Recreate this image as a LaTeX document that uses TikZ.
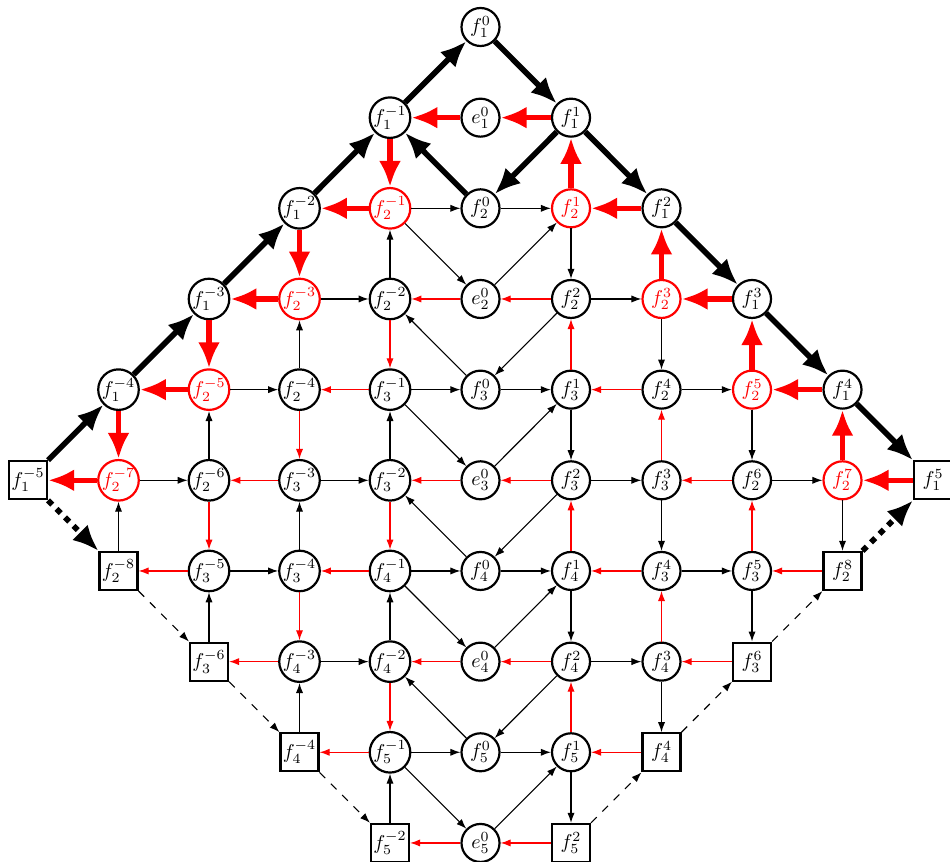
\documentclass[tikz,border=0pt]{standalone}
\usetikzlibrary{arrows.meta}
\begin{document}
\begin{tikzpicture}[x=45.25pt,y=-45.33pt,
  nd/.style={circle,draw,line width=1.1pt,minimum size=19pt,inner sep=0pt},
  rnd/.style={nd,draw=red,text=red},
  sq/.style={rectangle,draw,line width=1.1pt,minimum size=19pt,inner sep=0pt},
  ar/.style={-{Latex[length=5pt,width=3.6pt]},line width=0.55pt},
  rar/.style={ar,red},
  dar/.style={ar,dash pattern=on 4pt off 4pt},
  bar/.style={-{Latex[length=13pt,width=11pt]},line width=2.8pt},
  rbar/.style={bar,red},
  dbar/.style={bar,dash pattern=on 3pt off 3pt}]
\useasboundingbox (-0.3094,-0.2978) rectangle (10.1878,9.2092);
% row 0
\node[nd] (f1p0) at (5,0) {$f_1^{0}$};
% row 1
\node[nd] (f1m1) at (4,1) {$f_1^{-1}$};
\node[nd] (e1) at (5,1) {$e_1^{0}$};
\node[nd] (f1p1) at (6,1) {$f_1^{1}$};
% row 2
\node[nd] (f1m2) at (3,2) {$f_1^{-2}$};
\node[rnd] (f2m1) at (4,2) {$f_2^{-1}$};
\node[nd] (f2p0) at (5,2) {$f_2^{0}$};
\node[rnd] (f2p1) at (6,2) {$f_2^{1}$};
\node[nd] (f1p2) at (7,2) {$f_1^{2}$};
% row 3
\node[nd] (f1m3) at (2,3) {$f_1^{-3}$};
\node[rnd] (f2m3) at (3,3) {$f_2^{-3}$};
\node[nd] (f2m2) at (4,3) {$f_2^{-2}$};
\node[nd] (e2) at (5,3) {$e_2^{0}$};
\node[nd] (f2p2) at (6,3) {$f_2^{2}$};
\node[rnd] (f2p3) at (7,3) {$f_2^{3}$};
\node[nd] (f1p3) at (8,3) {$f_1^{3}$};
% row 4
\node[nd] (f1m4) at (1,4) {$f_1^{-4}$};
\node[rnd] (f2m5) at (2,4) {$f_2^{-5}$};
\node[nd] (f2m4) at (3,4) {$f_2^{-4}$};
\node[nd] (f3m1) at (4,4) {$f_3^{-1}$};
\node[nd] (f3p0) at (5,4) {$f_3^{0}$};
\node[nd] (f3p1) at (6,4) {$f_3^{1}$};
\node[nd] (f2p4) at (7,4) {$f_2^{4}$};
\node[rnd] (f2p5) at (8,4) {$f_2^{5}$};
\node[nd] (f1p4) at (9,4) {$f_1^{4}$};
% row 5
\node[sq] (f1m5) at (0,5) {$f_1^{-5}$};
\node[rnd] (f2m7) at (1,5) {$f_2^{-7}$};
\node[nd] (f2m6) at (2,5) {$f_2^{-6}$};
\node[nd] (f3m3) at (3,5) {$f_3^{-3}$};
\node[nd] (f3m2) at (4,5) {$f_3^{-2}$};
\node[nd] (e3) at (5,5) {$e_3^{0}$};
\node[nd] (f3p2) at (6,5) {$f_3^{2}$};
\node[nd] (f3p3) at (7,5) {$f_3^{3}$};
\node[nd] (f2p6) at (8,5) {$f_2^{6}$};
\node[rnd] (f2p7) at (9,5) {$f_2^{7}$};
\node[sq] (f1p5) at (10,5) {$f_1^{5}$};
% row 6
\node[sq] (f2m8) at (1,6) {$f_2^{-8}$};
\node[nd] (f3m5) at (2,6) {$f_3^{-5}$};
\node[nd] (f3m4) at (3,6) {$f_3^{-4}$};
\node[nd] (f4m1) at (4,6) {$f_4^{-1}$};
\node[nd] (f4p0) at (5,6) {$f_4^{0}$};
\node[nd] (f4p1) at (6,6) {$f_4^{1}$};
\node[nd] (f3p4) at (7,6) {$f_3^{4}$};
\node[nd] (f3p5) at (8,6) {$f_3^{5}$};
\node[sq] (f2p8) at (9,6) {$f_2^{8}$};
% row 7
\node[sq] (f3m6) at (2,7) {$f_3^{-6}$};
\node[nd] (f4m3) at (3,7) {$f_4^{-3}$};
\node[nd] (f4m2) at (4,7) {$f_4^{-2}$};
\node[nd] (e4) at (5,7) {$e_4^{0}$};
\node[nd] (f4p2) at (6,7) {$f_4^{2}$};
\node[nd] (f4p3) at (7,7) {$f_4^{3}$};
\node[sq] (f3p6) at (8,7) {$f_3^{6}$};
% row 8
\node[sq] (f4m4) at (3,8) {$f_4^{-4}$};
\node[nd] (f5m1) at (4,8) {$f_5^{-1}$};
\node[nd] (f5p0) at (5,8) {$f_5^{0}$};
\node[nd] (f5p1) at (6,8) {$f_5^{1}$};
\node[sq] (f4p4) at (7,8) {$f_4^{4}$};
% row 9
\node[sq] (f5m2) at (4,9) {$f_5^{-2}$};
\node[nd] (e5) at (5,9) {$e_5^{0}$};
\node[sq] (f5p2) at (6,9) {$f_5^{2}$};

% thick black outer path
\draw[bar] (f1m5) -- (f1m4);
\draw[bar] (f1m4) -- (f1m3);
\draw[bar] (f1m3) -- (f1m2);
\draw[bar] (f1m2) -- (f1m1);
\draw[bar] (f1m1) -- (f1p0);
\draw[bar] (f1p0) -- (f1p1);
\draw[bar] (f1p1) -- (f1p2);
\draw[bar] (f1p2) -- (f1p3);
\draw[bar] (f1p3) -- (f1p4);
\draw[bar] (f1p4) -- (f1p5);
\draw[bar] (f1p1) -- (f2p0);
\draw[bar] (f2p0) -- (f1m1);
\draw[dbar] (f1m5) -- (f2m8);
\draw[dbar] (f2p8) -- (f1p5);

% thick red
\draw[rbar] (f1p1) -- (e1);
\draw[rbar] (e1) -- (f1m1);
\draw[rbar] (f1m1) -- (f2m1);
\draw[rbar] (f2m1) -- (f1m2);
\draw[rbar] (f1m2) -- (f2m3);
\draw[rbar] (f2m3) -- (f1m3);
\draw[rbar] (f1m3) -- (f2m5);
\draw[rbar] (f2m5) -- (f1m4);
\draw[rbar] (f1m4) -- (f2m7);
\draw[rbar] (f2m7) -- (f1m5);
\draw[rbar] (f2p1) -- (f1p1);
\draw[rbar] (f1p2) -- (f2p1);
\draw[rbar] (f2p3) -- (f1p2);
\draw[rbar] (f1p3) -- (f2p3);
\draw[rbar] (f2p5) -- (f1p3);
\draw[rbar] (f1p4) -- (f2p5);
\draw[rbar] (f2p7) -- (f1p4);
\draw[rbar] (f1p5) -- (f2p7);

% thin black
\draw[ar] (f2m1) -- (f2p0);
\draw[ar] (f2p0) -- (f2p1);
\draw[ar] (f2m2) -- (f2m1);
\draw[ar] (f2m1) -- (e2);
\draw[ar] (e2) -- (f2p1);
\draw[ar] (f2p1) -- (f2p2);
\draw[ar] (f2p2) -- (f2p3);
\draw[ar] (f2m3) -- (f2m2);
\draw[ar] (f2m4) -- (f2m3);
\draw[ar] (f2p2) -- (f3p0);
\draw[ar] (f3p0) -- (f2m2);
\draw[ar] (f2p3) -- (f2p4);
\draw[ar] (f2m5) -- (f2m4);
\draw[ar] (f3m1) -- (f3p0);
\draw[ar] (f3p0) -- (f3p1);
\draw[ar] (f2p4) -- (f2p5);
\draw[ar] (f3m2) -- (f3m1);
\draw[ar] (f3m1) -- (e3);
\draw[ar] (e3) -- (f3p1);
\draw[ar] (f3p1) -- (f3p2);
\draw[ar] (f2m6) -- (f2m5);
\draw[ar] (f2p5) -- (f2p6);
\draw[ar] (f2m7) -- (f2m6);
\draw[ar] (f3m3) -- (f3m2);
\draw[ar] (f3p2) -- (f3p3);
\draw[ar] (f2p6) -- (f2p7);
\draw[ar] (f2m8) -- (f2m7);
\draw[ar] (f3m4) -- (f3m3);
\draw[ar] (f3p3) -- (f3p4);
\draw[ar] (f2p7) -- (f2p8);
\draw[ar] (f3p2) -- (f4p0);
\draw[ar] (f4p0) -- (f3m2);
\draw[ar] (f3m5) -- (f3m4);
\draw[ar] (f4m1) -- (f4p0);
\draw[ar] (f4p0) -- (f4p1);
\draw[ar] (f3p4) -- (f3p5);
\draw[ar] (f3m6) -- (f3m5);
\draw[ar] (f4m2) -- (f4m1);
\draw[ar] (f4m1) -- (e4);
\draw[ar] (e4) -- (f4p1);
\draw[ar] (f4p1) -- (f4p2);
\draw[ar] (f3p5) -- (f3p6);
\draw[ar] (f4m3) -- (f4m2);
\draw[ar] (f4p2) -- (f4p3);
\draw[ar] (f4m4) -- (f4m3);
\draw[ar] (f4p3) -- (f4p4);
\draw[ar] (f4p2) -- (f5p0);
\draw[ar] (f5p0) -- (f4m2);
\draw[ar] (f5m1) -- (f5p0);
\draw[ar] (f5p0) -- (f5p1);
\draw[ar] (f5m2) -- (f5m1);
\draw[ar] (f5m1) -- (e5);
\draw[ar] (e5) -- (f5p1);
\draw[ar] (f5p1) -- (f5p2);

% thin dashed
\draw[dar] (f2m8) -- (f3m6);
\draw[dar] (f3m6) -- (f4m4);
\draw[dar] (f4m4) -- (f5m2);
\draw[dar] (f5p2) -- (f4p4);
\draw[dar] (f4p4) -- (f3p6);
\draw[dar] (f3p6) -- (f2p8);

% thin red
\draw[rar] (e2) -- (f2m2);
\draw[rar] (f2p2) -- (e2);
\draw[rar] (f2m2) -- (f3m1);
\draw[rar] (f3p1) -- (f2p2);
\draw[rar] (f3m1) -- (f2m4);
\draw[rar] (f2p4) -- (f3p1);
\draw[rar] (f2m4) -- (f3m3);
\draw[rar] (f3p3) -- (f2p4);
\draw[rar] (f3m3) -- (f2m6);
\draw[rar] (e3) -- (f3m2);
\draw[rar] (f3p2) -- (e3);
\draw[rar] (f2p6) -- (f3p3);
\draw[rar] (f2m6) -- (f3m5);
\draw[rar] (f3m2) -- (f4m1);
\draw[rar] (f4p1) -- (f3p2);
\draw[rar] (f3p5) -- (f2p6);
\draw[rar] (f3m5) -- (f2m8);
\draw[rar] (f4m1) -- (f3m4);
\draw[rar] (f3p4) -- (f4p1);
\draw[rar] (f2p8) -- (f3p5);
\draw[rar] (f3m4) -- (f4m3);
\draw[rar] (f4p3) -- (f3p4);
\draw[rar] (f4m3) -- (f3m6);
\draw[rar] (e4) -- (f4m2);
\draw[rar] (f4p2) -- (e4);
\draw[rar] (f3p6) -- (f4p3);
\draw[rar] (f4m2) -- (f5m1);
\draw[rar] (f5p1) -- (f4p2);
\draw[rar] (f5m1) -- (f4m4);
\draw[rar] (f4p4) -- (f5p1);
\draw[rar] (e5) -- (f5m2);
\draw[rar] (f5p2) -- (e5);
\end{tikzpicture}
\end{document}
